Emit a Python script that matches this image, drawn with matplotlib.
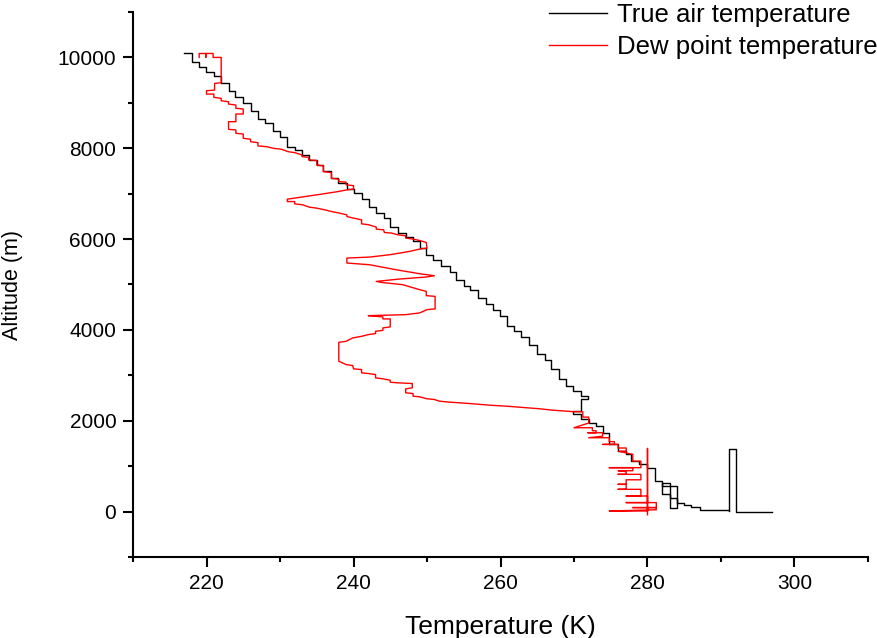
import matplotlib
matplotlib.use("Agg")
import matplotlib.pyplot as plt
from matplotlib.ticker import MultipleLocator

plt.rcParams["font.family"] = ["Liberation Sans", "DejaVu Sans"]

# True air temperature profile (step corners, K / m)
air_T = [217.0, 218.0, 219.0, 219.9, 221.0, 222.0, 223.1, 223.9, 225.0, 226.0,
         227.0, 228.0, 229.0, 230.0, 231.0, 232.0, 233.0, 234.0, 235.0, 235.9,
         237.0, 237.9, 239.1, 240.0, 241.1, 242.1, 243.1, 244.1, 245.0, 246.0,
         247.1, 248.1, 249.0, 249.9, 250.8, 251.9, 253.1, 254.0, 255.0, 255.9,
         256.9, 258.0, 259.0, 259.9, 260.9, 261.9, 262.8, 263.9, 264.9, 266.0,
         266.9, 267.9, 268.9, 269.9, 271.0, 271.9, 271.0, 271.0, 269.9, 271.0,
         272.1, 273.0, 273.9, 274.8, 276.0, 277.1, 277.8, 278.9, 280.0, 281.0,
         282.0, 283.0, 284.0, 283.0, 282.0, 283.0, 284.0, 285.0, 285.9, 287.1,
         289.8, 291.1, 291.1, 292.0, 292.0, 297.0]
air_alt = [10087, 9904, 9794, 9684, 9589, 9442, 9266, 9120, 9002, 8826,
           8651, 8549, 8387, 8255, 8035, 7963, 7860, 7750, 7633, 7500,
           7350, 7244, 7099, 7011, 6879, 6716, 6585, 6461, 6264, 6132,
           6044, 5947, 5800, 5655, 5530, 5400, 5266, 5105, 4974, 4870,
           4703, 4578, 4446, 4314, 4079, 3969, 3846, 3677, 3479, 3347,
           3143, 2923, 2776, 2651, 2541, 2468, 2336, 2211, 2139, 2029,
           1960, 1880, 1735, 1480, 1330, 1260, 1110, 1040, 967, 673,
           563, 308, 88, 380, 620, 560, 200, 140, 90, 35,
           35, 15, 1370, 1370, 0, 0]

# Dew point temperature profile (K / m)
dew_T = [219.0, 219.0, 219.9, 219.9, 219.9, 220.9, 220.9, 222.0, 222.0, 221.1,
         221.1, 220.0, 220.0, 221.0, 221.0, 222.0, 222.0, 223.0, 223.0, 224.0,
         224.0, 225.0, 225.0, 224.0, 224.0, 223.0, 223.0, 224.0, 224.0, 225.0,
         225.0, 226.0, 226.0, 227.0, 227.0, 228.2, 229.1, 230.2, 231.1, 232.0,
         233.0, 233.0, 233.9, 233.9, 235.0, 235.0, 235.9, 235.9, 237.0, 237.0,
         238.0, 238.0, 239.0, 239.0, 240.0, 240.0, 239.1, 237.9, 235.9, 232.0,
         231.0, 231.0, 232.0, 232.0, 233.1, 234.0, 235.0, 236.1, 237.0, 238.1,
         239.1, 239.1, 240.0, 241.1, 241.1, 242.1, 243.1, 243.1, 244.1, 244.2,
         245.2, 246.0, 247.1, 247.1, 248.1, 249.0, 249.9, 250.0, 249.0, 247.6,
         244.9, 242.2, 239.1, 239.1, 242.2, 245.8, 249.0, 251.0, 249.9, 246.3,
         243.1, 243.8, 246.7, 249.0, 249.9, 249.9, 251.1, 251.1, 250.0, 249.0,
         247.1, 242.0, 243.1, 244.0, 244.0, 245.0, 245.0, 244.0, 244.0, 243.0,
         243.0, 242.0, 241.1, 239.9, 239.0, 238.0, 238.0, 239.0, 239.9, 240.0,
         241.1, 241.1, 242.0, 243.0, 243.0, 244.0, 245.0, 245.0, 246.0, 248.0,
         248.0, 247.1, 247.1, 248.1, 248.1, 249.0, 250.0, 251.0, 251.7, 253.1,
         254.4, 256.2, 258.5, 260.8, 263.5, 265.3, 267.1, 270.1, 271.2, 271.2,
         272.0, 272.0, 270.0, 272.5, 272.5, 273.0, 273.0, 271.9, 273.9, 273.9,
         272.0, 274.8, 274.8, 275.5, 275.5, 273.9, 276.0, 276.0, 277.1, 277.1,
         276.0, 278.0, 278.0, 279.1, 279.1, 274.8, 278.0, 278.0, 276.0, 277.1,
         277.1, 276.0, 279.1, 279.1, 277.1, 277.1, 276.0, 277.1, 277.1, 276.0,
         279.1, 279.1, 277.1, 280.0, 280.0, 277.1, 281.2, 281.2, 278.0, 281.2,
         281.2, 274.8, 280.0, 280.0, 280.0]
dew_alt = [10000, 10087, 10087, 10000, 10087, 10087, 10000, 10000, 9442, 9428,
           9281, 9266, 9193, 9193, 9120, 9099, 9046, 9024, 8973, 8951,
           8879, 8864, 8754, 8754, 8585, 8585, 8417, 8402, 8329, 8314,
           8219, 8198, 8145, 8123, 8051, 8035, 7999, 7978, 7925, 7903,
           7853, 7815, 7800, 7743, 7730, 7633, 7611, 7486, 7464, 7340,
           7318, 7266, 7253, 7193, 7178, 7099, 7084, 7046, 6996, 6901,
           6879, 6826, 6826, 6776, 6754, 6703, 6681, 6644, 6607, 6571,
           6534, 6497, 6461, 6424, 6336, 6314, 6264, 6220, 6204, 6145,
           6132, 6095, 6073, 6022, 6000, 5969, 5925, 5802, 5780, 5727,
           5655, 5604, 5582, 5473, 5435, 5325, 5237, 5193, 5165, 5121,
           5068, 5046, 4996, 4886, 4849, 4754, 4739, 4462, 4446, 4374,
           4336, 4314, 4300, 4286, 4242, 4242, 4066, 4044, 3991, 3969,
           3919, 3897, 3859, 3824, 3749, 3727, 3310, 3237, 3215, 3143,
           3127, 3055, 3040, 3018, 2945, 2923, 2892, 2848, 2835, 2820,
           2725, 2703, 2615, 2600, 2541, 2527, 2484, 2468, 2431, 2409,
           2396, 2374, 2343, 2321, 2286, 2264, 2233, 2198, 2198, 2080,
           2080, 1950, 1846, 1846, 1780, 1780, 1736, 1736, 1736, 1660,
           1626, 1626, 1540, 1540, 1479, 1479, 1479, 1400, 1400, 1330,
           1330, 1260, 1110, 1110, 967, 967, 967, 900, 900, 880,
           820, 820, 820, 700, 700, 600, 600, 600, 490, 490,
           490, 343, 343, 343, 198, 198, 198, 88, 88, 88,
           40, 13, 13, 1390, -70]

fig = plt.figure(figsize=(8.78, 6.38), dpi=100)
ax = fig.add_axes([133 / 878, 1 - 557 / 638, 735 / 878, 545 / 638])

l1, = ax.plot(air_T, air_alt, color="black", lw=1.0, drawstyle="steps-post")
l2, = ax.plot(dew_T, dew_alt, color="red", lw=1.0)

ax.set_xlim(210, 310)
ax.set_ylim(-1000, 11000)
ax.xaxis.set_major_locator(MultipleLocator(20))
ax.xaxis.set_minor_locator(MultipleLocator(10))
ax.yaxis.set_major_locator(MultipleLocator(2000))
ax.yaxis.set_minor_locator(MultipleLocator(1000))

for side in ["top", "right"]:
    ax.spines[side].set_visible(False)
for side in ["left", "bottom"]:
    ax.spines[side].set_linewidth(1.5)
ax.tick_params(which="major", direction="out", length=7, width=1.5, labelsize=15, pad=5)
ax.tick_params(which="minor", direction="out", length=3.5, width=1.5)

ax.set_xlabel("Temperature (K)", fontsize=19, labelpad=16)
ax.set_ylabel("Altitude (m)", fontsize=15.5, labelpad=25)

fig.legend([l1, l2], ["True air temperature", "Dew point temperature"],
           loc="upper left", bbox_to_anchor=(549 / 878, 1 - 3 / 638), frameon=False,
           fontsize=18.5, handlelength=2.25, handletextpad=0.4, labelspacing=0.3,
           borderpad=0, borderaxespad=0)

fig.savefig("out.png", dpi=100)
